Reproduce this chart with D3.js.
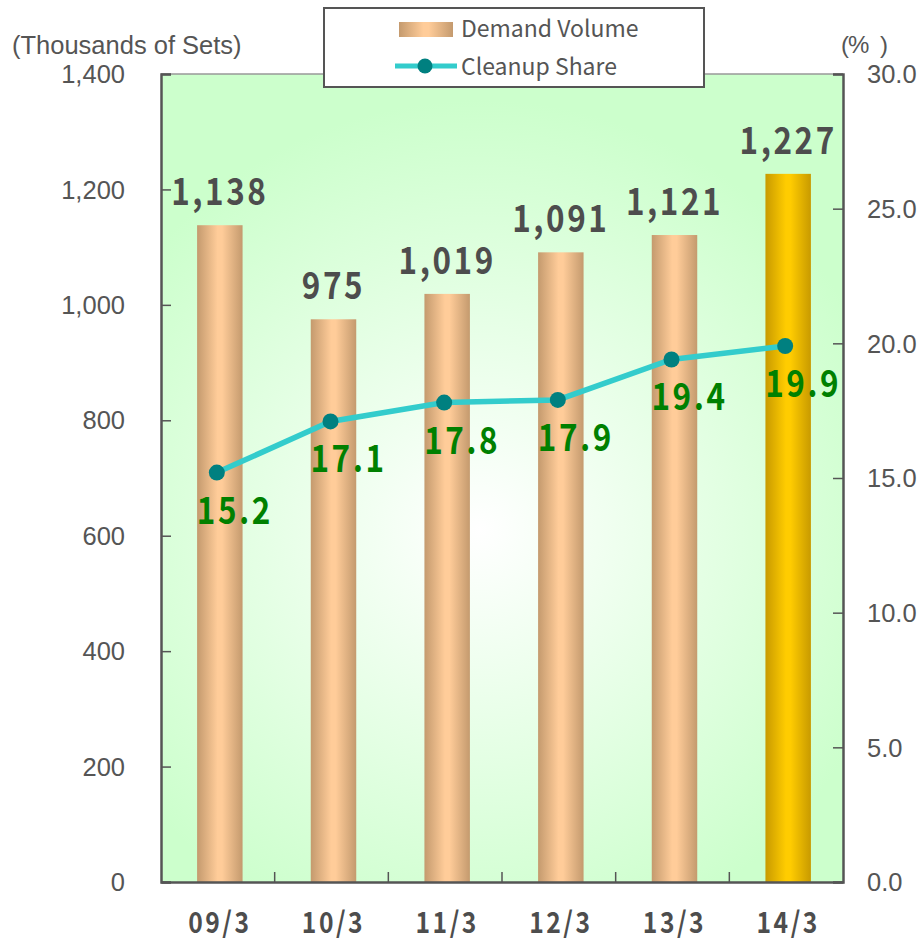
<!DOCTYPE html>
<html><head><meta charset="utf-8">
<script src="https://cdn.jsdelivr.net/npm/d3@7"></script>
<style>body{margin:0;background:#fff;}svg{display:block;}</style>
</head><body>
<script>
const categories = ["09/3","10/3","11/3","12/3","13/3","14/3"];
const demandVolume = [1138, 975, 1019, 1091, 1121, 1227];
const cleanupShare = [15.2, 17.1, 17.8, 17.9, 19.4, 19.9];
const leftTicks = [0,200,400,600,800,1000,1200,1400];
const rightTicks = [0,5,10,15,20,25,30];

const W = 923, H = 942;
const m = {left:161, right:843, top:74, bottom:882};
const svg = d3.select("body").append("svg").attr("width",W).attr("height",H);
const defs = svg.append("defs");

const bg = defs.append("radialGradient").attr("id","bg").attr("gradientUnits","userSpaceOnUse")
  .attr("cx",480).attr("cy",530).attr("r",430);
bg.append("stop").attr("offset",0).attr("stop-color","#ffffff");
bg.append("stop").attr("offset",1).attr("stop-color","#ccffcc");

function barGrad(id, edge, mid){
  const g = defs.append("linearGradient").attr("id",id).attr("x1",0).attr("x2",1).attr("y1",0).attr("y2",0);
  g.append("stop").attr("offset",0).attr("stop-color",edge);
  g.append("stop").attr("offset",0.45).attr("stop-color",mid);
  g.append("stop").attr("offset",0.55).attr("stop-color",mid);
  g.append("stop").attr("offset",1).attr("stop-color",edge);
}
barGrad("tan","#c49a6e","#ffcc99");
barGrad("gold","#c89a00","#ffcc00");

const x = d3.scaleBand().domain(categories).range([m.left+2,m.right+2]).paddingInner(0.6).paddingOuter(0.3);
const xb = d3.scaleBand().domain(categories).range([m.left,m.right]);
const yL = d3.scaleLinear().domain([0,1400]).range([m.bottom,m.top]);
const yR = d3.scaleLinear().domain([0,30]).range([m.bottom,m.top]);

svg.append("rect").attr("x",m.left).attr("y",m.top).attr("width",m.right-m.left).attr("height",m.bottom-m.top).attr("fill","url(#bg)");
svg.append("line").attr("x1",m.left).attr("x2",m.right).attr("y1",m.top).attr("y2",m.top).attr("stroke","#999").attr("stroke-width",1.5);

// bars
svg.selectAll("rect.bar").data(categories).enter().append("rect").attr("class","bar")
  .attr("x",d=>x(d)).attr("width",x.bandwidth())
  .attr("y",(d,i)=>yL(demandVolume[i])).attr("height",(d,i)=>m.bottom-yL(demandVolume[i]))
  .attr("fill",(d,i)=>i===categories.length-1?"url(#gold)":"url(#tan)");

// axes
const axisFont = "'Liberation Sans', Arial, sans-serif";
const gL = svg.append("g").attr("transform",`translate(${m.left},0)`)
  .call(d3.axisRight(yL).tickValues(leftTicks).tickSize(10).tickFormat(""));
const gR = svg.append("g").attr("transform",`translate(${m.right},0)`)
  .call(d3.axisLeft(yR).tickValues(rightTicks).tickSize(10).tickFormat(""));
const gB = svg.append("g").attr("transform",`translate(0,${m.bottom})`)
  .call(d3.axisTop(xb).tickSize(0).tickFormat(""));
[gL,gR,gB].forEach(g=>{g.selectAll("path").attr("stroke","#555").attr("stroke-width",2.5);g.selectAll("line").attr("stroke","#555").attr("stroke-width",1.5);});
svg.append("g").selectAll("line").data(categories.slice(1)).enter().append("line")
  .attr("x1",d=>xb(d)).attr("x2",d=>xb(d)).attr("y1",m.bottom).attr("y2",m.bottom-10)
  .attr("stroke","#555").attr("stroke-width",1.5);

// tick labels
svg.append("g").selectAll("text").data(leftTicks).enter().append("text")
  .attr("x",125).attr("y",d=>yL(d)).attr("dy","0.36em").attr("text-anchor","end")
  .attr("font-family",axisFont).attr("font-size",25.5).attr("fill","#555")
  .text(d=>d3.format(",")(d));
svg.append("g").selectAll("text").data(rightTicks).enter().append("text")
  .attr("x",867).attr("y",d=>yR(d)).attr("dy","0.36em").attr("text-anchor","start")
  .attr("font-family",axisFont).attr("font-size",25.5).attr("fill","#555")
  .text(d=>d3.format(".1f")(d));
svg.append("text").attr("x",12).attr("y",54).attr("font-family",axisFont).attr("font-size",25.5).attr("fill","#555").text("(Thousands of Sets)");
const pct = svg.append("text").attr("y",53).attr("font-family",axisFont).attr("font-size",24).attr("fill","#555");
pct.append("tspan").attr("x",841).text("(");
pct.append("tspan").attr("x",848).text("%");
pct.append("tspan").attr("x",880).text(")");

const jp = "'Noto Sans CJK JP', sans-serif";
const SX = 0.85;
function condensedLabels(data, xf, yf, txt, size, color, ls){
  svg.append("g").selectAll("text").data(data).enter().append("text")
    .attr("transform",(d,i)=>`translate(${xf(d,i)},${yf(d,i)}) scale(${SX},1)`)
    .attr("text-anchor","middle")
    .attr("font-family",jp).attr("font-weight","bold").attr("font-size",size).attr("letter-spacing",ls).attr("fill",color)
    .text(txt);
}
condensedLabels(categories, d=>xb(d)+xb.bandwidth()/2+2, ()=>933, d=>d, 29, "#4d4d4d", 3);
condensedLabels(categories, d=>x(d)+x.bandwidth()/2, (d,i)=>yL(demandVolume[i])-20, (d,i)=>d3.format(",")(demandVolume[i]), 37, "#4d4d4d", 3);

// line
const cx = d=>x(d)+x.bandwidth()/2-3;
svg.append("path").datum(categories)
  .attr("d",d3.line().x(cx).y((d,i)=>yR(cleanupShare[i])))
  .attr("fill","none").attr("stroke","#33cccc").attr("stroke-width",5.5);
svg.append("g").selectAll("circle").data(categories).enter().append("circle")
  .attr("cx",cx).attr("cy",(d,i)=>yR(cleanupShare[i])).attr("r",8).attr("fill","#008080");
condensedLabels(categories, d=>cx(d)+18, (d,i)=>yR(cleanupShare[i])+51, (d,i)=>d3.format(".1f")(cleanupShare[i]), 37, "#008000", 3);

// legend
const lg = svg.append("g");
lg.append("rect").attr("x",324).attr("y",8).attr("width",380).attr("height",79).attr("fill","#fff").attr("stroke","#555").attr("stroke-width",2);
lg.append("rect").attr("x",399).attr("y",22).attr("width",54).attr("height",15).attr("fill","url(#tan)");
lg.append("text").attr("x",461).attr("y",37).attr("font-family",jp).attr("font-size",23).attr("fill","#555").text("Demand Volume");
lg.append("line").attr("x1",395).attr("x2",457).attr("y1",66).attr("y2",66).attr("stroke","#33cccc").attr("stroke-width",5);
lg.append("circle").attr("cx",425).attr("cy",66).attr("r",7.5).attr("fill","#008080");
lg.append("text").attr("x",461).attr("y",75).attr("font-family",jp).attr("font-size",23).attr("fill","#555").text("Cleanup Share");
</script>
</body></html>
